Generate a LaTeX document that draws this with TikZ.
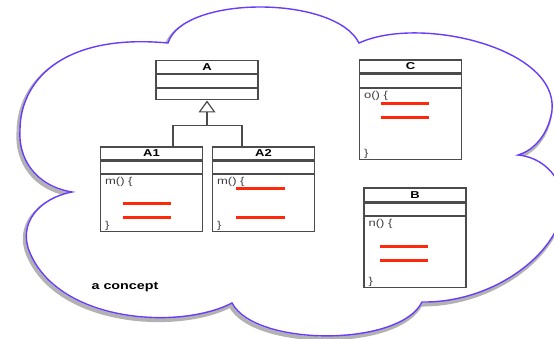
\documentclass[tikz,border=0pt]{standalone}
\usepackage{fontspec}
\setmainfont{Liberation Sans}[FakeStretch=1.3]
\usepackage{xcolor}
\usetikzlibrary{arrows.meta,positioning}

\definecolor{cloudblue}{RGB}{105,60,250}
\definecolor{boxgray}{RGB}{75,75,75}
\definecolor{codered}{RGB}{255,40,10}

% outline of the concept cloud, cusp to cusp
\newcommand{\cloudpath}{(72,146) .. controls (35,152) and (18,180) .. (20,208)
  .. controls (20,255) and (60,305) .. (168,295)
  .. controls (183,343) and (335,343) .. (359,295)
  .. controls (420,323) and (558,290) .. (552,228)
  .. controls (549,205) and (535,188) .. (518,183)
  .. controls (550,180) and (568,150) .. (562,125)
  .. controls (553,80) and (490,35) .. (422,36)
  .. controls (400,-9) and (255,-9) .. (232,35)
  .. controls (180,8) and (60,15) .. (30,85)
  .. controls (17,115) and (40,140) .. (72,146) -- cycle}

\begin{document}
\begin{tikzpicture}[
    x=1pt, y=1pt,
    cname/.style={rectangle, draw=boxgray, line width=1.2pt, fill=white,
                  minimum width=102pt, minimum height=13pt, inner sep=0pt,
                  font=\bfseries\fontsize{10}{11}\selectfont},
    cpart/.style={rectangle, draw=boxgray, line width=1.2pt, fill=white,
                  minimum width=102pt, inner sep=0pt},
    code/.style={anchor=north west, inner sep=0pt, text=black!75,
                 font=\fontsize{10}{11}\selectfont},
    stroke/.style={codered, line width=3pt},
    line/.style={boxgray, line width=1.2pt},
    inherit/.style={line, -{Triangle[open, length=12pt, width=17pt]}},
]
    \useasboundingbox (0,0) rectangle (554,338);

    % cloud with its shadow
    \draw[black!30, line width=4pt, shift={(-1.5,-2.5)}] \cloudpath;
    \draw[cloudblue, line width=1.4pt, fill=white] \cloudpath;

    % class A and its subclasses
    \node[cname] (A) at (207,271) {A};
    \node[cpart, minimum height=13pt, below=0pt of A] (Aattr) {};
    \node[cpart, minimum height=11pt, below=0pt of Aattr] (Aops) {};

    \node[cname] (A1) at (151.5,184.5) {A1};
    \node[cpart, minimum height=12pt, below=0pt of A1] (A1attr) {};
    \node[cpart, minimum height=57pt, below=0pt of A1attr] (A1ops) {};

    \node[cname] (A2) at (263.5,184.5) {A2};
    \node[cpart, minimum height=12pt, below=0pt of A2] (A2attr) {};
    \node[cpart, minimum height=57pt, below=0pt of A2attr] (A2ops) {};

    % classes C and B
    \node[cname] (C) at (410.5,271.5) {C};
    \node[cpart, minimum height=13pt, below=0pt of C] (Cattr) {};
    \node[cpart, minimum height=71pt, below=0pt of Cattr] (Cops) {};

    \node[cname, minimum height=14pt] (B) at (415,143) {B};
    \node[cpart, minimum height=12pt, below=0pt of B] (Battr) {};
    \node[cpart, minimum height=71pt, below=0pt of Battr] (Bops) {};

    % method bodies
    \node[code] (A1m) at ([shift={(5,-3)}]A1ops.north west) {m() \{};
    \node[code, anchor=south west] (A1end) at ([shift={(5,1)}]A1ops.south west) {\}};
    \node[code] (A2m) at ([shift={(5,-3)}]A2ops.north west) {m() \{};
    \node[code, anchor=south west] (A2end) at ([shift={(5,1)}]A2ops.south west) {\}};
    \node[code] (Co) at ([shift={(5,-3)}]Cops.north west) {o() \{};
    \node[code, anchor=south west] (Cend) at ([shift={(5,1)}]Cops.south west) {\}};
    \node[code] (Bn) at ([shift={(5,-3)}]Bops.north west) {n() \{};
    \node[code, anchor=south west] (Bend) at ([shift={(5,1)}]Bops.south west) {\}};

    \draw[stroke] ([shift={(23,-30)}]A1ops.north west) -- ++(48,0);
    \draw[stroke] ([shift={(23,-44)}]A1ops.north west) -- ++(48,0);
    \draw[stroke] ([shift={(24,-15)}]A2ops.north west) -- ++(49,0);
    \draw[stroke] ([shift={(24,-44)}]A2ops.north west) -- ++(49,0);
    \draw[stroke] ([shift={(22,-16)}]Cops.north west) -- ++(48,0);
    \draw[stroke] ([shift={(22,-30)}]Cops.north west) -- ++(48,0);
    \draw[stroke] ([shift={(17,-31)}]Bops.north west) -- ++(48,0);
    \draw[stroke] ([shift={(17,-45)}]Bops.north west) -- ++(48,0);

    % generalisation
    \coordinate (join) at ([yshift=-25pt]Aops.south);
    \draw[line] ([xshift=21.5pt]A1.north) |- (join) -| ([xshift=-21.5pt]A2.north);
    \draw[inherit] (join) -- (Aops.south);

    \node[font=\bfseries\fontsize{11}{12}\selectfont] (concept) at (125,51) {a concept};
\end{tikzpicture}
\end{document}
